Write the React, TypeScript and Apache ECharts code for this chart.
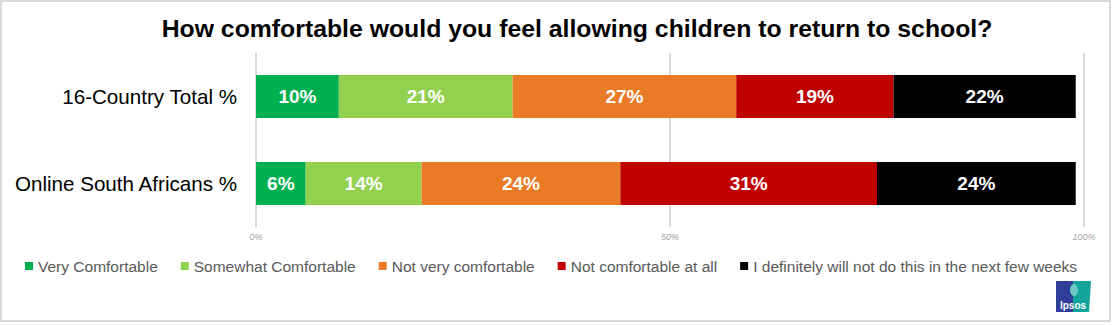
import React, { useEffect, useRef } from "react";
import * as echarts from "echarts";

const title = "How comfortable would you feel allowing children to return to school?";
const categories = ["16-Country Total %", "Online South Africans %"];
const seriesNames = [
  "Very Comfortable",
  "Somewhat Comfortable",
  "Not very comfortable",
  "Not comfortable at all",
  "I definitely will not do this in the next few weeks",
];
const veryComfortable = [10, 6];
const somewhatComfortable = [21, 14];
const notVeryComfortable = [27, 24];
const notComfortableAtAll = [19, 31];
const definitelyNot = [22, 24];
const seriesColors = ["#00b050", "#92d050", "#e97a26", "#c00000", "#000000"];
const xTicks = [0, 50, 100];

export default function App() {
  const ref = useRef<HTMLDivElement>(null);
  useEffect(() => {
    if (!ref.current) return;
    const chart = echarts.init(ref.current, null, { renderer: "svg" });
    const values = [veryComfortable, somewhatComfortable, notVeryComfortable, notComfortableAtAll, definitelyNot];
    const font = "Arial, 'Liberation Sans', sans-serif";
    chart.setOption({
      animation: false,
      backgroundColor: "#ffffff",
      title: {
        text: title,
        left: 572,
        textAlign: "center",
        top: 11,
        textStyle: { fontFamily: font, fontSize: 24.8, fontWeight: "bold", color: "#000000" },
      },
      legend: {
        data: seriesNames,
        left: 20,
        top: 253,
        icon: "rect",
        itemWidth: 8,
        itemHeight: 8,
        itemGap: 23,
        textStyle: { fontFamily: font, fontSize: 15.5, color: "#595959" },
      },
      grid: { left: 256, top: 53, width: 828, height: 174, containLabel: false },
      xAxis: {
        type: "value",
        min: xTicks[0],
        max: xTicks[xTicks.length - 1],
        interval: 50,
        axisLine: { show: false },
        axisTick: { show: false },
        splitLine: { show: true, lineStyle: { color: "#d9d9d9", width: 2 } },
        axisLabel: {
          formatter: "{value}%",
          fontFamily: font,
          fontStyle: "italic",
          fontSize: 9,
          color: "#a6a6a6",
          margin: 5,
        },
      },
      yAxis: {
        type: "category",
        data: categories,
        inverse: true,
        axisLine: { show: false },
        axisTick: { show: false },
        axisLabel: { fontFamily: font, fontSize: 20.6, color: "#000000", margin: 19 },
      },
      series: seriesNames.map((name, i) => ({
        name,
        type: "bar",
        stack: "total",
        barWidth: 43,
        data: values[i],
        itemStyle: { color: seriesColors[i] },
        label: {
          show: true,
          position: "inside",
          formatter: "{c}%",
          fontFamily: font,
          fontSize: 19,
          fontWeight: "bold",
          color: "#ffffff",
        },
      })),
      graphic: [
        {
          type: "rect",
          shape: { x: 1, y: 1, width: 1109, height: 320 },
          style: { fill: "none", stroke: "#d9d9d9", lineWidth: 2 },
          silent: true,
        },
        {
          type: "group",
          left: 1056,
          top: 281,
          children: [
            { type: "rect", shape: { x: 0, y: 0, width: 18, height: 31 }, style: { fill: "#2f3f99" } },
            { type: "polygon", shape: { points: [[17, 0], [35, 0], [33, 31], [17, 31]] }, style: { fill: "#12a39b" } },
            { type: "ellipse", shape: { cx: 18, cy: 9, rx: 4, ry: 6 }, style: { fill: "#6cc8c0" } },
            {
              type: "text",
              style: {
                text: "Ipsos",
                x: 17,
                y: 24,
                align: "center",
                verticalAlign: "middle",
                fill: "#ffffff",
                font: "bold 10px Arial, 'Liberation Sans', sans-serif",
              },
            },
          ],
        },
      ],
    });
    return () => chart.dispose();
  }, []);
  return (
    <div
      ref={ref}
      style={{ position: "absolute", left: 0, top: 0, width: 1114, height: 325 }}
    />
  );
}
